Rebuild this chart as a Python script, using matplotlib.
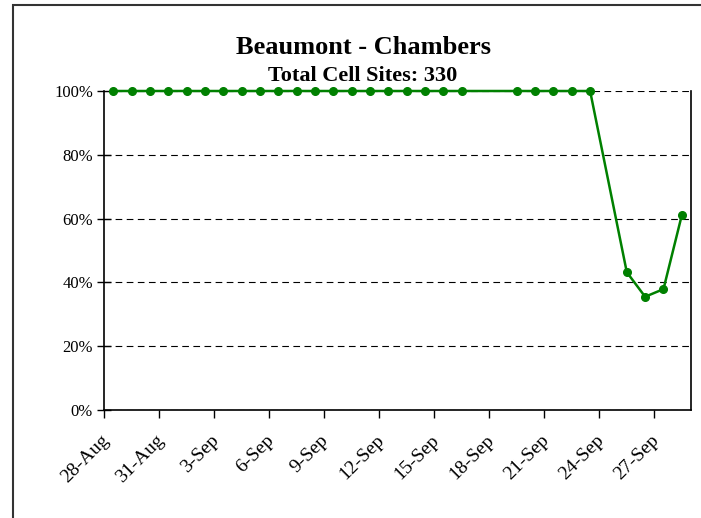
import matplotlib
matplotlib.use("Agg")
import matplotlib.pyplot as plt
from matplotlib.patches import Rectangle
from matplotlib.transforms import ScaledTranslation
import numpy as np

# daily cell-site availability, 28-Aug .. 28-Sep (None = no reading that day)
days = ['28-Aug', '29-Aug', '30-Aug', '31-Aug', '1-Sep', '2-Sep', '3-Sep', '4-Sep',
        '5-Sep', '6-Sep', '7-Sep', '8-Sep', '9-Sep', '10-Sep', '11-Sep', '12-Sep',
        '13-Sep', '14-Sep', '15-Sep', '16-Sep', '17-Sep', '18-Sep', '19-Sep', '20-Sep',
        '21-Sep', '22-Sep', '23-Sep', '24-Sep', '25-Sep', '26-Sep', '27-Sep', '28-Sep']
avail = [1.0] * 20 + [None, None] + [1.0] * 5 + [None, 0.432, 0.355, 0.379, 0.611]
tick_every = 3

plt.rcParams['font.family'] = ['Liberation Serif', 'DejaVu Serif']

fig = plt.figure(figsize=(7.01, 5.18), dpi=100)
ax = fig.add_axes([104 / 701, 1 - 410 / 518, 587 / 701, 319 / 518])

pos = np.arange(len(days)) + 0.5
xs = [p for p, v in zip(pos, avail) if v is not None]
ys = [v for v in avail if v is not None]
ax.plot(xs, ys, color='#008000', lw=1.8, marker='o', ms=5.5, zorder=3, clip_on=False)

ax.set_xlim(0, len(days))
ax.set_ylim(0, 1)
ax.set_yticks(np.arange(0, 1.01, 0.2))
ax.set_yticklabels([f'{int(round(t * 100))}%' for t in np.arange(0, 1.01, 0.2)], fontsize=12)
ax.yaxis.grid(True, color='black', linestyle=(0, (6, 4)), lw=0.8)
ax.set_axisbelow(True)

tpos = np.arange(0, len(days), tick_every)
ax.set_xticks(tpos)
ax.set_xticklabels([days[i] for i in tpos], rotation=45, ha='right', va='center',
                   rotation_mode='anchor', fontsize=14)
ax.tick_params(axis='x', direction='out', length=6, width=1, pad=14)
ax.tick_params(axis='y', direction='inout', length=10, width=1, pad=3)
shift = ScaledTranslation(2 / 100, 0, fig.dpi_scale_trans)
for lab in ax.get_xticklabels():
    lab.set_transform(lab.get_transform() + shift)

ax.spines['top'].set_visible(False)
for s in ['left', 'bottom', 'right']:
    ax.spines[s].set_linewidth(1.2)

fig.text(0.518, 1 - 47 / 518, 'Beaumont - Chambers', ha='center', va='center',
         fontsize=19, fontweight='bold')
fig.text(0.518, 1 - 76 / 518, 'Total Cell Sites: 330', ha='center', va='center',
         fontsize=16, fontweight='bold')

fig.patches.append(Rectangle((12.5 / 701, -0.1), 1.0, 1.1 - 5.5 / 518, transform=fig.transFigure,
                             fill=False, edgecolor='#333333', lw=1.5))

fig.savefig('out.png', dpi=100)
